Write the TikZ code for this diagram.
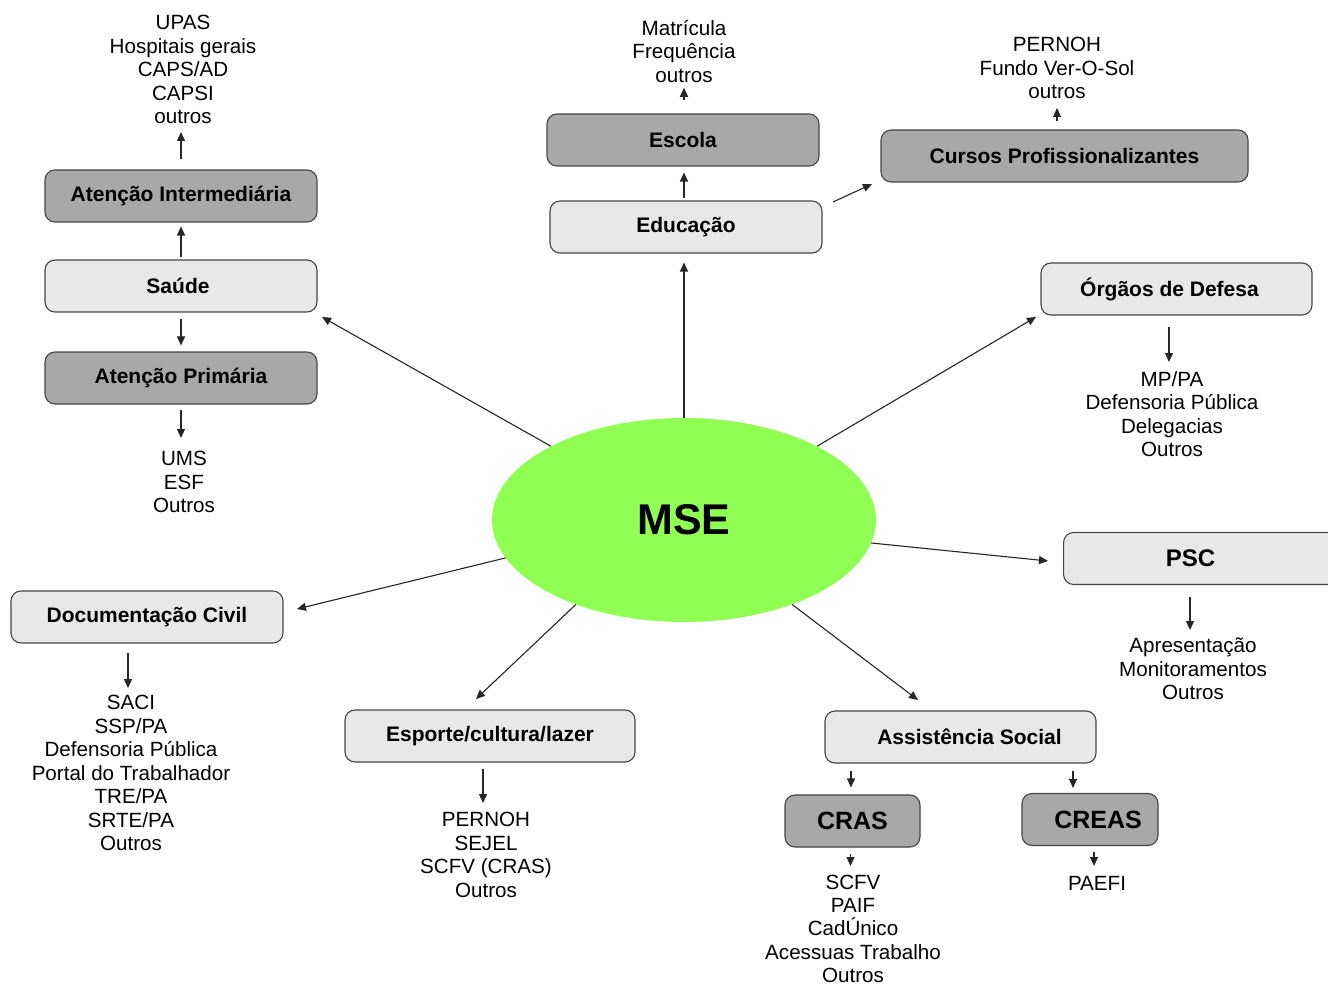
\documentclass[tikz,border=0pt]{standalone}
\usepackage{fontspec}
\setmainfont{Liberation Sans}
\usetikzlibrary{shapes.geometric,arrows.meta,calc}
\definecolor{lightbox}{RGB}{232,232,232}
\definecolor{darkbox}{RGB}{168,168,168}
\definecolor{mseg}{RGB}{144,255,84}
\definecolor{edge}{RGB}{70,70,70}
\tikzset{
  box/.style={draw=edge,line width=1.1pt,rounded corners=10pt,minimum height=52pt,inner sep=0pt,font=\fontsize{21}{24}\selectfont\bfseries},
  lbox/.style={box,fill=lightbox},
  dbox/.style={box,fill=darkbox},
  lst/.style={anchor=north,align=center,inner sep=0pt,font=\fontsize{20.6}{23.5}\selectfont},
  arr/.style={-{Triangle[length=9pt,width=8pt]},line width=1.1pt,draw=black!85},
}
\begin{document}
\begin{tikzpicture}[x=1pt,y=-1pt]
\clip (0,0) rectangle (1328,984);
\fill[white] (0,0) rectangle (1328,984);

% central ellipse
\node[ellipse,fill=mseg,minimum width=384pt,minimum height=204pt,inner sep=0pt,font=\fontsize{43}{48}\selectfont\bfseries] (mse) at (684,520) {MSE};

% Saude branch
\node[dbox,minimum width=272pt] (atint) at (181,196) {Atenção Intermediária};
\node[lbox,minimum width=272pt] (saude) at (181,286) {\hspace*{-6pt}Saúde};
\node[dbox,minimum width=272pt] (atprim) at (181,378) {Atenção Primária};
\node[lst] (hlist) at (183,15) {UPAS\\Hospitais gerais\\CAPS/AD\\CAPSI\\outros};
\node[lst] (ums) at (184,451) {UMS\\ESF\\Outros};

% Educacao branch
\node[dbox,minimum width=272pt] (escola) at (683,140) {Escola};
\node[lbox,minimum width=272pt] (educ) at (686,227) {Educação};
\node[lst] (mat) at (684,20) {Matrícula\\Frequência\\outros};
\node[dbox,minimum width=367pt] (cursos) at (1064.5,156) {Cursos Profissionalizantes};
\node[lst] (pern) at (1057,37) {PERNOH\\Fundo Ver-O-Sol\\outros};

% Orgaos de defesa
\node[lbox,minimum width=271pt] (orgaos) at (1176.5,289) {\hspace*{-14pt}Órgãos de Defesa};
\node[lst] (mp) at (1172,371) {MP/PA\\Defensoria Pública\\Delegacias\\Outros};

% PSC
\node[lbox,minimum width=280pt,anchor=west,font=\fontsize{24}{28}\selectfont\bfseries] (psc) at (1063,558.5) {\hspace*{-26pt}PSC};
\node[lst] (apres) at (1193,638) {Apresentação\\Monitoramentos\\Outros};

% Assistencia social
\node[lbox,minimum width=271pt] (ass) at (960.5,737) {\hspace*{18pt}Assistência Social};
\node[dbox,minimum width=135pt,font=\fontsize{25}{28}\selectfont\bfseries] (cras) at (852.5,821) {CRAS};
\node[dbox,minimum width=136pt,font=\fontsize{25}{28}\selectfont\bfseries] (creas) at (1090,819.5) {\hspace*{16pt}CREAS};
\node[lst,font=\fontsize{20.6}{23.2}\selectfont] (scfv) at (853,875) {SCFV\\PAIF\\CadÚnico\\Acessuas Trabalho\\Outros};
\node[lst] (paefi) at (1097,876) {PAEFI};

% Esporte
\node[lbox,minimum width=290pt] (esp) at (490,736) {Esporte/cultura/lazer};
\node[lst] (esplist) at (486,812) {PERNOH\\SEJEL\\SCFV (CRAS)\\Outros};

% Documentacao civil
\node[lbox,minimum width=272pt] (doc) at (147,617) {Documentação Civil};
\node[lst] (doclist) at (131,695) {SACI\\SSP/PA\\Defensoria Pública\\Portal do Trabalhador\\TRE/PA\\SRTE/PA\\Outros};

% tips of radial arrows
\coordinate (tSaude) at (322,317);
\coordinate (tOrg) at (1036,317);
\coordinate (tPsc) at (1048,561);
\coordinate (tAss) at (918,700);
\coordinate (tEsp) at (476,699);
\coordinate (tDoc) at (297,609);
\coordinate (tCur) at (872,184);
\coordinate (sCur) at (833,202);

% radial arrows
\draw[arr] (mse.151) -- (tSaude);
\draw[arr,shorten >=9pt] (mse.north) -- (mse.north |- educ.south);
\draw[arr] (mse.29) -- (tOrg);
\draw[arr] (mse.-7.4) -- (tPsc);
\draw[arr] (mse.-38.7) -- (tAss);
\draw[arr] (mse.218.4) -- (tEsp);
\draw[arr] (mse.192.7) -- (tDoc);
\draw[arr] (sCur) -- (tCur);

% small arrows
\draw[arr,shorten <=2pt,shorten >=4pt] (saude.north) -- (atint.south);
\draw[arr,shorten <=6pt,shorten >=6pt] (saude.south) -- (atprim.north);
\draw[arr,shorten <=10pt,shorten >=8pt] (atint.north) -- (atint.north |- hlist.south);
\draw[arr,shorten <=5pt,shorten >=13pt] (atprim.south) -- (atprim.south |- ums.north);
\draw[arr,shorten <=2pt,shorten >=6pt] (educ.north -| mat.south) -- (escola.south -| mat.south);
\draw[arr,shorten <=13pt,shorten >=5pt] (escola.north -| mat.south) -- (mat.south);
\draw[arr,shorten <=8pt,shorten >=9pt] (cursos.north -| pern.south) -- (pern.south);
\draw[arr,shorten <=11pt,shorten >=9pt] ([xshift=-3pt]orgaos.south -| mp.north) -- ([xshift=-3pt]mp.north);
\draw[arr,shorten <=12pt,shorten >=8pt] ([xshift=-3pt]psc.south -| apres.north) -- ([xshift=-3pt]apres.north);
\draw[arr,shorten <=7pt,shorten >=7pt] ([xshift=-1.5pt]cras.north |- ass.south) -- ([xshift=-1.5pt]cras.north);
\draw[arr,shorten <=7pt,shorten >=5pt] ([xshift=-17pt]creas.north |- ass.south) -- ([xshift=-17pt]creas.north);
\draw[arr,shorten <=6pt,shorten >=9pt] ([xshift=-2pt]cras.south |- cras.south) -- ([xshift=-2pt]cras.south |- scfv.north);
\draw[arr,shorten <=6pt,shorten >=10pt] ([xshift=-3pt]paefi.north |- creas.south) -- ([xshift=-3pt]paefi.north);
\draw[arr,shorten <=6pt,shorten >=9pt] ([xshift=-3pt]esplist.north |- esp.south) -- ([xshift=-3pt]esplist.north);
\draw[arr,shorten <=9pt,shorten >=7pt] ([xshift=-3pt]doclist.north |- doc.south) -- ([xshift=-3pt]doclist.north);
\end{tikzpicture}
\end{document}
